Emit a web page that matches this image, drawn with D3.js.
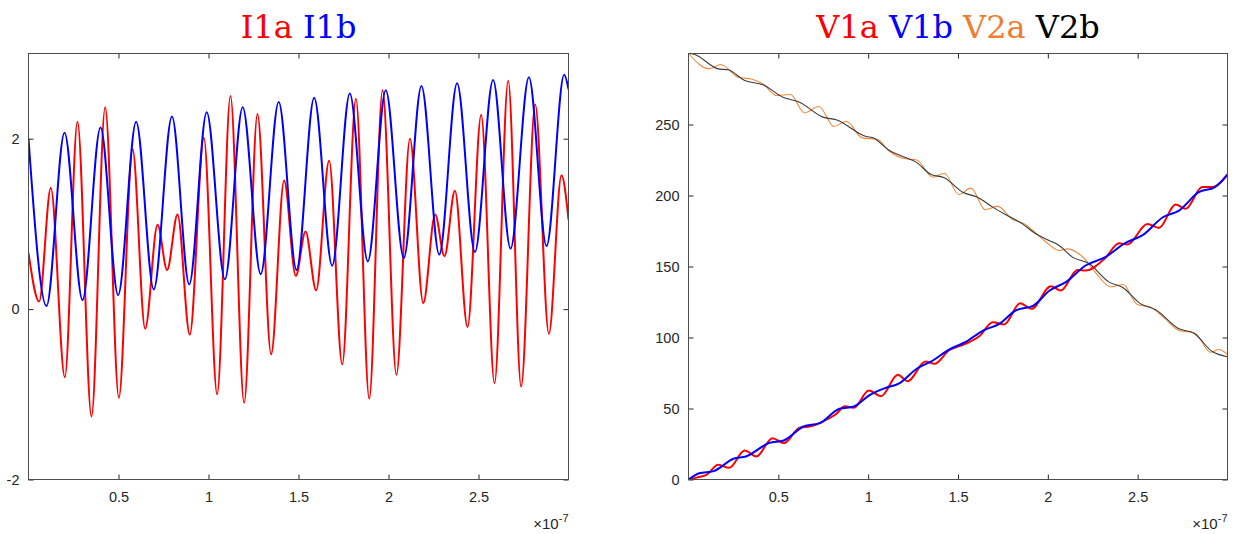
<!DOCTYPE html>
<html><head><meta charset="utf-8">
<script src="https://cdn.jsdelivr.net/npm/d3@7"></script>
<style>
html,body{margin:0;padding:0;background:#fff;}
svg{display:block;}
</style></head>
<body>
<svg id="chart" width="1235" height="534"></svg>
<script>
// ---------- DATA (time in units of 1e-7 s) ----------
const xTicks = [0.5, 1, 1.5, 2, 2.5];
const xTickLabels = ["0.5", "1", "1.5", "2", "2.5"];
const iTicks = [-2, 0, 2];
const iTickLabels = ["-2", "0", "2"];
const vTicks = [0, 50, 100, 150, 200, 250];
const vTickLabels = ["0", "50", "100", "150", "200", "250"];

const i1aT = [0,0.059,0.124,0.202,0.272,0.35,0.426,0.502,0.578,0.648,0.717,0.77,0.828,0.896,0.974,1.048,1.122,1.198,1.272,1.348,1.42,1.485,1.539,1.598,1.67,1.743,1.819,1.893,1.967,2.044,2.119,2.193,2.259,2.311,2.369,2.439,2.515,2.589,2.665,2.737,2.815,2.891,2.961,3.0];
const i1aV = [0.66,0.09,1.42,-0.80,2.20,-1.26,2.37,-1.04,1.88,-0.23,0.99,0.46,1.11,-0.30,2.01,-1.00,2.50,-1.10,2.29,-0.53,1.51,0.39,0.91,0.22,1.74,-0.65,2.47,-1.05,2.57,-0.77,2.00,0.07,1.11,0.62,1.39,-0.21,2.28,-0.87,2.68,-0.91,2.40,-0.29,1.57,1.05];

const i1bT = [0,0.1,0.2,0.3,0.4,0.498,0.598,0.696,0.797,0.893,0.99,1.091,1.19,1.29,1.39,1.489,1.587,1.687,1.785,1.885,1.985,2.085,2.183,2.282,2.381,2.48,2.581,2.678,2.78,2.878,2.976,3.0];
const i1bV = [2.0,0.035,2.07,0.106,2.13,0.165,2.2,0.23,2.26,0.29,2.31,0.35,2.37,0.41,2.43,0.46,2.48,0.51,2.53,0.56,2.57,0.6,2.62,0.64,2.65,0.67,2.69,0.71,2.72,0.74,2.75,2.58];

const v1aT = [0,0.05,0.1,0.165,0.226,0.313,0.378,0.467,0.531,0.618,0.68,0.75,0.82,0.87,0.92,1.004,1.072,1.165,1.22,1.319,1.369,1.45,1.54,1.62,1.693,1.757,1.846,1.909,2.017,2.072,2.165,2.21,2.32,2.396,2.443,2.554,2.619,2.711,2.767,2.859,2.92,3.0];
const v1aV = [0,1.5,3.3,10.3,8.2,20.4,16.2,29.1,25.6,36.4,37.5,41,46,51.5,50.5,62.7,58.7,73.7,69.2,83.1,81.5,91,95.5,101,110.8,109.2,124.2,120.2,136.1,133.1,147.6,147.2,156,166.4,165.5,180,177.2,193.7,190.6,205.9,206,215];

const v1bT = [0,0.06,0.14,0.25,0.32,0.45,0.53,0.64,0.73,0.84,0.92,1.01,1.1,1.17,1.27,1.36,1.45,1.54,1.64,1.73,1.82,1.92,2.01,2.1,2.21,2.32,2.43,2.53,2.64,2.73,2.84,2.93,3.0];
const v1bV = [0,4.4,5.9,14.6,16.2,25.8,27.5,37.3,39.7,49.8,51.4,59.6,64.6,67.5,78,83.8,91.5,96.7,104.9,109.6,119,122.5,133.1,139,150.7,156.6,166.4,172.3,184.7,189.4,202.3,205.9,214.5];

const v2aT = [0,0.115,0.18,0.276,0.35,0.42,0.489,0.567,0.646,0.726,0.809,0.878,0.967,1.05,1.12,1.2,1.27,1.359,1.424,1.504,1.572,1.652,1.72,1.8,1.87,1.98,2.063,2.109,2.2,2.27,2.35,2.418,2.498,2.57,2.65,2.73,2.82,2.906,2.952,3.0];
const v2aV = [300,289.2,292.3,283.3,282,278,270.4,271.1,258.2,262.7,248.6,252.3,240.6,239.5,231,226,225,212.9,215.7,200.7,205.2,190,192.5,183.5,180,168.3,161.3,162.4,156,145,135.7,137.3,123.2,121.5,113.5,105,103,89.6,91.5,88];

const v2bT = [0,0.03,0.165,0.22,0.313,0.415,0.526,0.618,0.748,0.822,0.989,1.026,1.118,1.193,1.267,1.35,1.424,1.526,1.609,1.693,1.785,1.859,1.933,2.007,2.063,2.137,2.23,2.341,2.415,2.517,2.6,2.73,2.813,2.915,3.0];
const v2bV = [300,299.5,289.2,288.5,281,278,269.2,265.7,255.2,253.3,241.5,240.6,231.7,227.5,223.5,214.8,212.5,202.3,198.8,191.8,185.2,180,173,168.3,164.8,156.6,151.9,139,135.4,123.7,119.5,106.1,103,90.1,86.5];

// ---------- DRAW ----------
const svg = d3.select("#chart");
const zip = (t, v) => t.map((x, i) => [x, v[i]]);
const tickFont = "'Liberation Sans', Arial, sans-serif";

function panel(opt) {
  const g = svg.append("g").attr("transform", `translate(${opt.left},${opt.top})`);
  const W = opt.width, H = opt.height;
  const x = d3.scaleLinear().domain([0, 3]).range([0, W]);
  const y = d3.scaleLinear().domain(opt.yDomain).range([H, 0]);

  g.append("defs").append("clipPath").attr("id", opt.id + "clip")
    .append("rect").attr("width", W).attr("height", H);

  const line = d3.line().x(d => x(d[0])).y(d => y(d[1])).curve(d3.curveMonotoneX);
  const plot = g.append("g").attr("clip-path", `url(#${opt.id}clip)`);
  opt.series.forEach(s => {
    plot.append("path").datum(zip(s.t, s.v))
      .attr("fill", "none").attr("stroke", s.color)
      .attr("stroke-width", s.w).attr("stroke-linejoin", "round")
      .attr("d", line);
  });

  const axisColor = "#262626";
  const styleAxis = sel => {
    sel.select(".domain").remove();
    sel.selectAll(".tick line").attr("stroke", axisColor).attr("stroke-width", 1);
    sel.selectAll(".tick text").attr("fill", "#262626")
      .style("font-family", tickFont).style("font-size", "14.5px");
  };
  g.append("g").attr("transform", `translate(0,${H})`)
    .call(d3.axisBottom(x).tickValues(xTicks).tickFormat((d, i) => xTickLabels[i]).tickSizeInner(-5).tickSizeOuter(0).tickPadding(12))
    .call(styleAxis);
  g.append("g")
    .call(d3.axisTop(x).tickValues(xTicks).tickFormat("").tickSizeInner(-5).tickSizeOuter(0))
    .call(styleAxis);
  g.append("g")
    .call(d3.axisLeft(y).tickValues(opt.yTicks).tickFormat((d, i) => opt.yLabels[i]).tickSizeInner(-5).tickSizeOuter(0).tickPadding(9))
    .call(styleAxis);
  g.append("g").attr("transform", `translate(${W},0)`)
    .call(d3.axisRight(y).tickValues(opt.yTicks).tickFormat("").tickSizeInner(-5).tickSizeOuter(0))
    .call(styleAxis);
  g.append("rect").attr("width", W).attr("height", H)
    .attr("fill", "none").attr("stroke", "#4d4d4d").attr("stroke-width", 1);

  // exponent label
  const ex = g.append("text").attr("x", W).attr("y", H + 49).attr("text-anchor", "end")
    .attr("fill", "#262626").style("font-family", tickFont).style("font-size", "15px");
  ex.append("tspan").text("\u00d710");
  ex.append("tspan").attr("dy", -7).style("font-size", "11px").text("-7");

  // title
  const tt = g.append("text").attr("x", W / 2).attr("y", -16).attr("text-anchor", "middle")
    .style("font-family", "'DejaVu Serif', serif").style("font-size", "32px");
  opt.title.forEach((p, i) => {
    tt.append("tspan").attr("fill", p.color).text((i ? " " : "") + p.text);
  });
}

panel({
  id: "pI", left: 28.5, top: 53.5, width: 540, height: 426,
  yDomain: [-2, 3], yTicks: iTicks, yLabels: iTickLabels,
  series: [
    { t: i1aT, v: i1aV, color: "#ff0000", w: 2 },
    { t: i1bT, v: i1bV, color: "#0000ff", w: 2 }
  ],
  title: [{ text: "I1a", color: "#ff0000" }, { text: "I1b", color: "#0000ff" }]
});

panel({
  id: "pV", left: 688.5, top: 53.5, width: 539, height: 426,
  yDomain: [0, 300], yTicks: vTicks, yLabels: vTickLabels,
  series: [
    { t: v2aT, v: v2aV, color: "#f5883c", w: 1.1 },
    { t: v2bT, v: v2bV, color: "#3a3a3a", w: 1.1 },
    { t: v1aT, v: v1aV, color: "#ff0000", w: 2 },
    { t: v1bT, v: v1bV, color: "#0000ff", w: 2 }
  ],
  title: [{ text: "V1a", color: "#ff0000" }, { text: "V1b", color: "#0000ff" },
          { text: "V2a", color: "#ed7d31" }, { text: "V2b", color: "#000000" }]
});
</script>
</body></html>
